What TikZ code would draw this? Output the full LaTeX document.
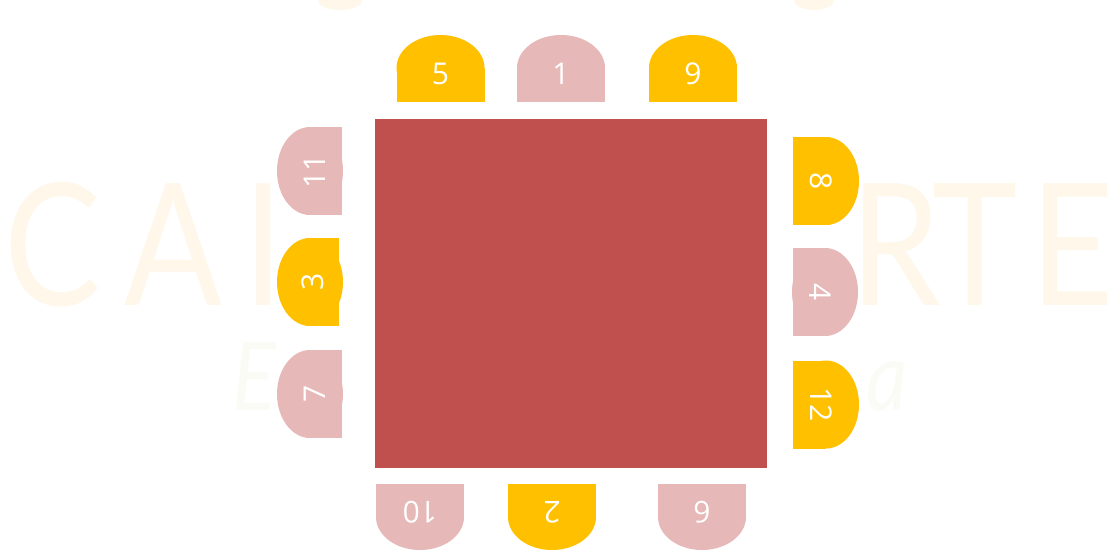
\documentclass[tikz,border=0pt]{standalone}
\usepackage{fontspec}
\setmainfont{Open Sans}
\newfontfamily\wmfont[FakeStretch=0.85]{Lato}
\definecolor{seatY}{HTML}{FFC000}
\definecolor{seatP}{HTML}{E6B8B7}
\definecolor{tableR}{HTML}{C0504D}
\definecolor{wm}{HTML}{FEF7EA}
\definecolor{wmtwo}{HTML}{FBFBF6}
\tikzset{
  seatlabel/.style={text=white,font=\fontsize{30}{30}\selectfont,inner sep=0pt,transform shape},
  wmletter/.style={text=wm,font=\wmfont\fontsize{170}{170}\selectfont,inner sep=0pt,anchor=base west},
  wmsmall/.style={text=wmtwo,font=\wmfont\itshape\fontsize{95}{95}\selectfont,inner sep=0pt,anchor=base west},
  tablebox/.style={fill=tableR,inner sep=0pt,anchor=north west}
}
% name, cx, cy, rotation, colour, depth, label
\newcommand\seatshape[7]{%
  \begin{scope}[shift={(#2,#3)},rotate=#4]
    \fill[#5] (0,-#6/2+33) ellipse [x radius=44,y radius=33];
    \fill[#5] (-44,-#6/2+33) rectangle (44,#6/2);
    \node[seatlabel] (#1) at (0,5) {#7};
  \end{scope}}
\begin{document}
\begin{tikzpicture}[x=1pt,y=-1pt]
\useasboundingbox (0,0) rectangle (1120,550);
\fill[white] (0,0) rectangle (1120,550);
% faint watermark
\fill[wm] (340,0) ellipse [x radius=22,y radius=10];
\fill[wm] (814,0) ellipse [x radius=20,y radius=10];
\node[wmletter] (wmC) at (4,305) {C};
\node[wmletter] (wmA) at (124,305) {A};
\node[wmletter] (wmL) at (243,305) {I};
\node[wmletter] (wmR) at (850,305) {R};
\node[wmletter] (wmT) at (932,305) {T};
\node[wmletter] (wmE) at (1030,305) {E};
\node[wmsmall] (wmE2) at (232,410) {E};
\node[wmsmall] (wma) at (866,410) {a};
% white panel
\fill[white] (277,12) rectangle (863,550);
% table
\node[tablebox,minimum width=392pt,minimum height=348.5pt] (table) at (375,119) {};
% top seats
\seatshape{s5}{440.5}{68.5}{0}{seatY}{67}{5}
\seatshape{s1}{561}{68.5}{0}{seatP}{67}{1}
\seatshape{s9}{693}{68.5}{0}{seatY}{67}{9}
% bottom seats
\seatshape{s10}{420}{517}{180}{seatP}{66}{10}
\seatshape{s2}{552}{517}{180}{seatY}{66}{2}
\seatshape{s6}{702}{517}{180}{seatP}{66}{6}
% left seats
\seatshape{s11}{309.5}{171}{90}{seatP}{65}{11}
\seatshape{s3}{308}{282}{90}{seatY}{62}{3}
\seatshape{s7}{309.5}{394}{90}{seatP}{65}{7}
% right seats
\seatshape{s8}{826}{181}{-90}{seatY}{66}{8}
\seatshape{s4}{825.5}{292}{-90}{seatP}{65}{4}
\seatshape{s12}{826}{404.5}{-90}{seatY}{66}{12}
\end{tikzpicture}
\end{document}
